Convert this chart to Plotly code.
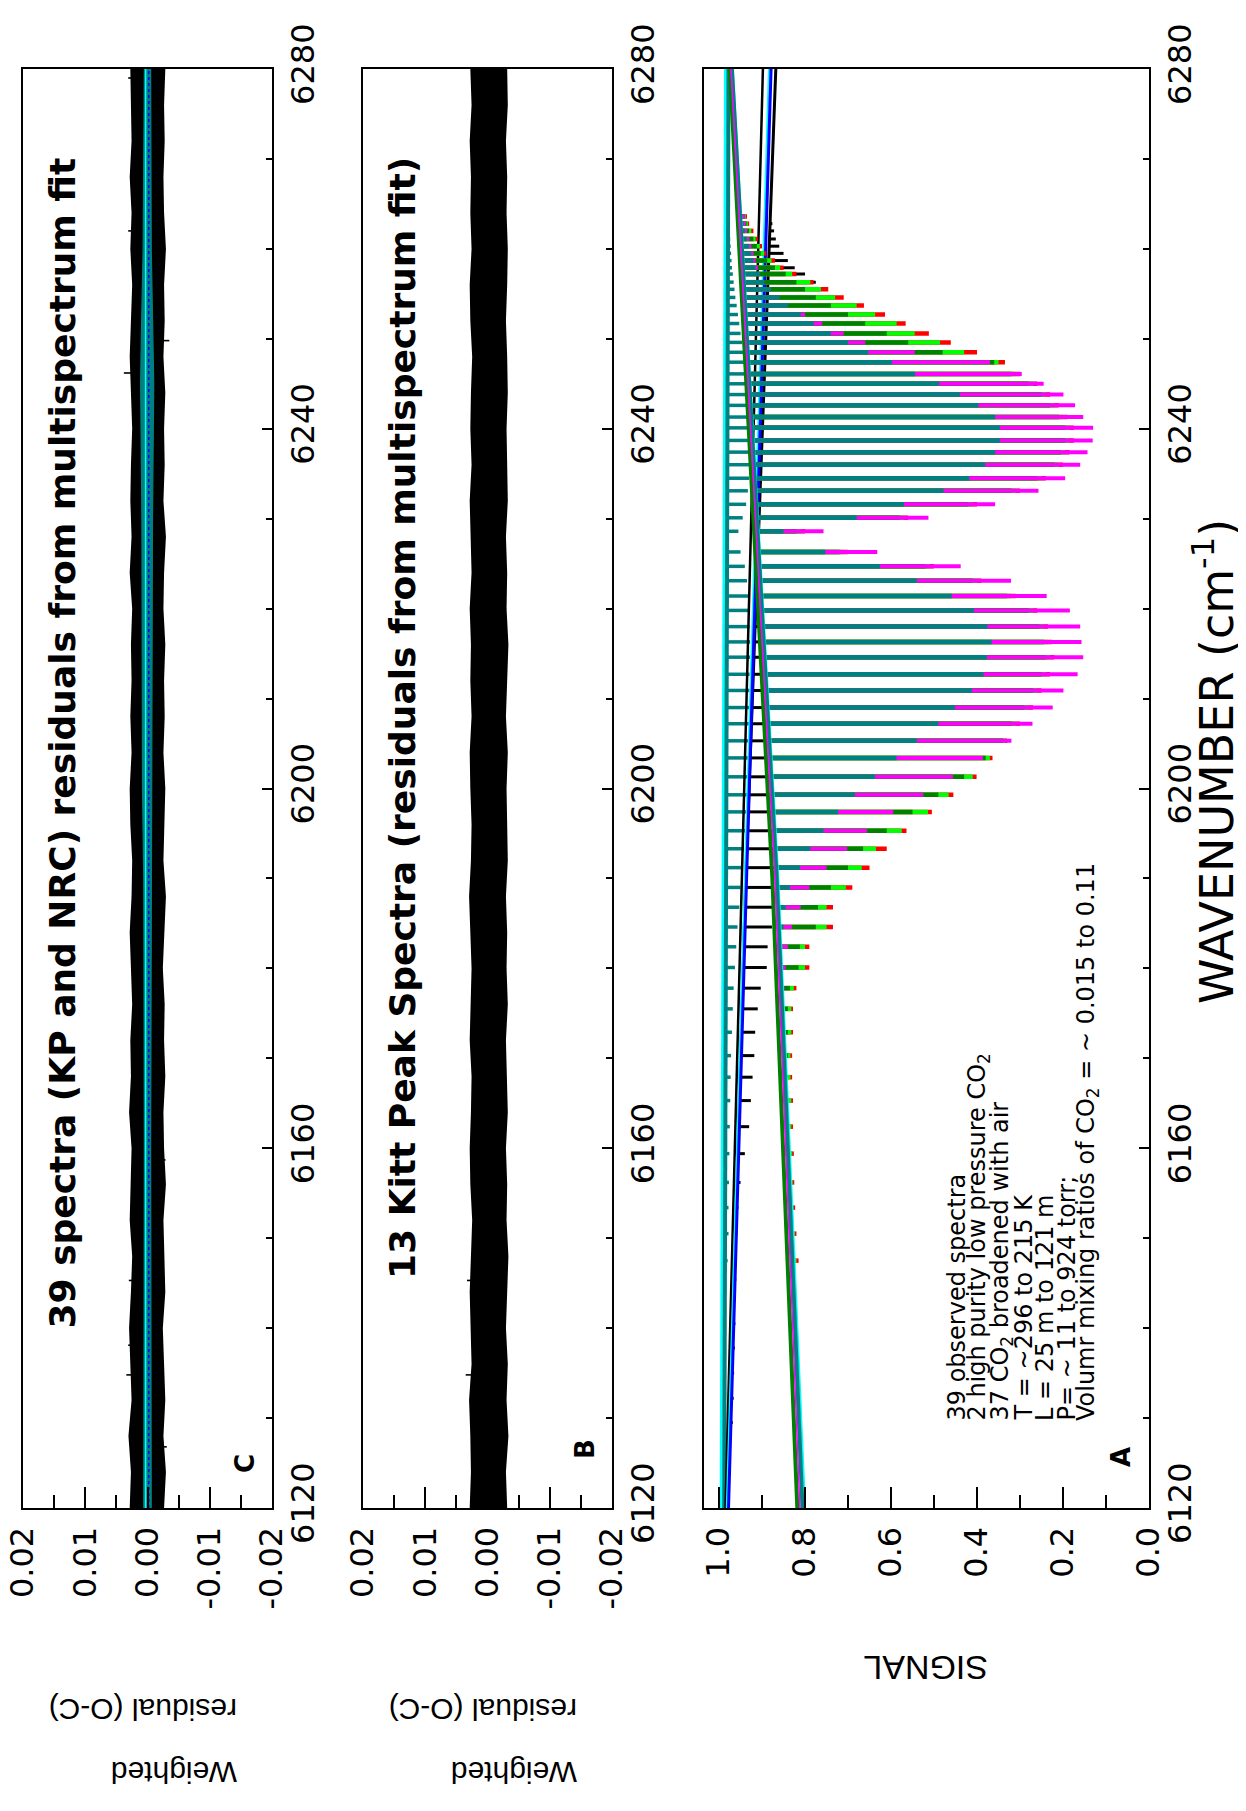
import numpy as np
import plotly.graph_objects as go

W, H = 1246, 1811
OFF = 8  # the page body adds an 8 px margin; place everything relative to the window

# ---------------- data ----------------
WN_TICKS = [6120, 6160, 6200, 6240, 6280]
WN_MINOR = [6130, 6140, 6150, 6170, 6180, 6190, 6210, 6220, 6230, 6250, 6260, 6270]
RES_TICKS = [0.02, 0.01, 0.0, -0.01, -0.02]
RES_TICKTEXT = ["0.02", "0.01", "0.00", "-0.01", "-0.02"]
RES_MINOR = [0.015, 0.005, -0.005, -0.015]
SIG_TICKS = [1.0, 0.8, 0.6, 0.4, 0.2, 0.0]
SIG_TICKTEXT = ["1.0", "0.8", "0.6", "0.4", "0.2", "0.0"]
SIG_MINOR = [0.9, 0.7, 0.5, 0.3, 0.1]

# residual envelopes (panel C and B)
RES_WN = [6120, 6124, 6128, 6132, 6136, 6140, 6144, 6148, 6152, 6156, 6160, 6164, 6168, 6172,
          6176, 6180, 6184, 6188, 6192, 6196, 6200, 6204, 6208, 6212, 6216, 6220, 6224, 6228,
          6232, 6236, 6240, 6244, 6248, 6252, 6256, 6260, 6264, 6268, 6272, 6276, 6280]
C_HI = [0.0027, 0.0025, 0.0029, 0.0024, 0.0026, 0.0028, 0.0025, 0.0023, 0.0027, 0.0025, 0.0024,
        0.0028, 0.0025, 0.0026, 0.0023, 0.0025, 0.0027, 0.0024, 0.0023, 0.0026, 0.0027, 0.0024,
        0.0026, 0.0024, 0.0025, 0.0023, 0.0027, 0.0024, 0.0026, 0.0025, 0.0023, 0.0025, 0.0027,
        0.0025, 0.0023, 0.0026, 0.0024, 0.0027, 0.0024, 0.0025, 0.0026]
C_LO = [-0.0025, -0.0028, -0.0024, -0.0027, -0.0025, -0.0023, -0.0027, -0.0026, -0.0024, -0.0028,
        -0.0025, -0.0024, -0.0027, -0.0025, -0.0026, -0.0023, -0.0026, -0.0028, -0.0024, -0.0025,
        -0.0027, -0.0024, -0.0026, -0.0025, -0.0027, -0.0024, -0.0025, -0.0028, -0.0024, -0.0026,
        -0.0025, -0.0027, -0.0024, -0.0026, -0.0025, -0.0028, -0.0025, -0.0024, -0.0026, -0.0025,
        -0.0027]
B_HI = [0.0027, 0.0025, 0.0026, 0.0028, 0.0024, 0.0026, 0.0027, 0.0025, 0.0023, 0.0026, 0.0027,
        0.0025, 0.0024, 0.0027, 0.0026, 0.0024, 0.0026, 0.0028, 0.0025, 0.0024, 0.0026, 0.0027,
        0.0024, 0.0026, 0.0025, 0.0027, 0.0024, 0.0025, 0.0027, 0.0024, 0.0026, 0.0025, 0.0023,
        0.0026, 0.0027, 0.0024, 0.0026, 0.0025, 0.0027, 0.0024, 0.0026]
B_LO = [-0.0030, -0.0028, -0.0032, -0.0029, -0.0031, -0.0028, -0.0030, -0.0032, -0.0029, -0.0030,
        -0.0028, -0.0031, -0.0030, -0.0028, -0.0031, -0.0029, -0.0030, -0.0028, -0.0031, -0.0030,
        -0.0029, -0.0031, -0.0028, -0.0030, -0.0032, -0.0029, -0.0030, -0.0028, -0.0031, -0.0030,
        -0.0029, -0.0031, -0.0030, -0.0028, -0.0030, -0.0031, -0.0029, -0.0030, -0.0028, -0.0031,
        -0.0030]
C_SPIKE_WN = [6126.8, 6134.8, 6138.1, 6145.3, 6158.7, 6246.2, 6249.8, 6262.0, 6279.0]
C_SPIKE_VAL = [-0.0031, 0.0034, 0.0031, 0.0030, -0.0029, 0.0038, -0.0035, 0.0031, 0.0031]
B_SPIKE_WN = [6134.8, 6145.3]
B_SPIKE_VAL = [0.0035, 0.0033]
CORE_WN = [6120, 6160, 6190, 6200, 6230, 6245, 6250, 6260, 6280]
CORE_HI = [0.0006, 0.0005, 0.0006, 0.0008, 0.0009, 0.0011, 0.0010, 0.0007, 0.0005]
CORE_LO = [-0.0006, -0.0005, -0.0006, -0.0007, -0.0008, -0.0010, -0.0009, -0.0006, -0.0005]

# Panel A: line centres (P and R branch) and tip signals of each spectrum
LINE_WN_P = [6147.5, 6150.5, 6153.4, 6156.2, 6159.4, 6162.4, 6165.3, 6167.9, 6170.3, 6172.9,
             6175.5, 6177.8, 6180.1, 6182.4, 6184.6, 6186.8, 6189.0, 6191.2, 6193.3, 6195.3,
             6197.4, 6199.3, 6201.3, 6203.4, 6205.3, 6207.2, 6209.0, 6210.9, 6212.7, 6214.6,
             6216.3, 6218.0, 6219.8, 6221.4, 6223.1, 6224.7, 6226.3]
LINE_WN_R = [6228.6, 6230.1, 6231.6, 6233.1, 6234.5, 6236.0, 6237.4, 6238.7, 6240.1, 6241.3,
             6242.6, 6243.8, 6245.0, 6246.1, 6247.4, 6248.5, 6249.6, 6250.6, 6251.7, 6252.7,
             6253.7, 6254.6, 6255.5, 6256.3, 6257.2, 6257.9, 6258.7, 6259.5, 6260.3, 6261.1,
             6262.0, 6262.8, 6263.6]

MAGENTA_P = [0.833, 0.835, 0.838, 0.840, 0.843, 0.845, 0.846, 0.848, 0.848, 0.850, 0.850, 0.848,
             0.845, 0.840, 0.830, 0.810, 0.790, 0.750, 0.702, 0.656, 0.595, 0.525, 0.456, 0.386,
             0.320, 0.271, 0.224, 0.199, 0.166, 0.153, 0.157, 0.160, 0.184, 0.238, 0.321, 0.438,
             0.632]
MAGENTA_R = [0.757, 0.513, 0.358, 0.257, 0.195, 0.160, 0.143, 0.131, 0.130, 0.153, 0.172, 0.199,
             0.245, 0.296, 0.370, 0.545, 0.660, 0.710, 0.760, 0.800, 0.840, 0.860, 0.880, 0.895,
             0.905, 0.910, 0.915, 0.920, 0.925, 0.930, 0.935, 0.938, 0.940]
RED_P = [0.815, 0.820, 0.823, 0.825, 0.826, 0.828, 0.828, 0.830, 0.830, 0.828, 0.828, 0.820,
         0.790, 0.790, 0.735, 0.735, 0.690, 0.650, 0.610, 0.564, 0.505, 0.455, 0.401, 0.364,
         0.330, 0.300, 0.270, 0.250, 0.230, 0.220, 0.225, 0.235, 0.260, 0.310, 0.390, 0.500,
         0.700]
RED_R = [0.800, 0.560, 0.400, 0.300, 0.240, 0.200, 0.185, 0.175, 0.175, 0.190, 0.210, 0.230,
         0.260, 0.300, 0.335, 0.400, 0.461, 0.512, 0.566, 0.614, 0.663, 0.710, 0.746, 0.780,
         0.820, 0.850, 0.870, 0.890, 0.900, 0.910, 0.920, 0.930, 0.935]
GREEN_P = [0.820, 0.824, 0.827, 0.829, 0.830, 0.832, 0.832, 0.834, 0.834, 0.832, 0.832, 0.826,
           0.800, 0.800, 0.750, 0.750, 0.705, 0.668, 0.635, 0.575, 0.514, 0.466, 0.410, 0.370,
           0.335, 0.310, 0.280, 0.260, 0.240, 0.230, 0.235, 0.245, 0.270, 0.320, 0.400, 0.510,
           0.710]
GREEN_R = [0.810, 0.570, 0.410, 0.310, 0.250, 0.210, 0.195, 0.185, 0.185, 0.200, 0.220, 0.240,
           0.270, 0.310, 0.350, 0.430, 0.486, 0.545, 0.587, 0.637, 0.680, 0.730, 0.763, 0.788,
           0.830, 0.858, 0.878, 0.895, 0.905, 0.915, 0.925, 0.933, 0.938]
DKGREEN_P = [0.825, 0.828, 0.831, 0.833, 0.835, 0.837, 0.838, 0.840, 0.840, 0.840, 0.840, 0.835,
             0.815, 0.812, 0.775, 0.770, 0.740, 0.700, 0.665, 0.610, 0.550, 0.490, 0.430, 0.380,
             0.340, 0.320, 0.290, 0.270, 0.250, 0.240, 0.245, 0.255, 0.280, 0.330, 0.410, 0.520,
             0.720]
DKGREEN_R = [0.820, 0.580, 0.420, 0.320, 0.260, 0.220, 0.205, 0.195, 0.195, 0.210, 0.230, 0.250,
             0.280, 0.320, 0.360, 0.480, 0.560, 0.610, 0.660, 0.700, 0.740, 0.775, 0.800, 0.820,
             0.845, 0.870, 0.888, 0.903, 0.912, 0.920, 0.930, 0.936, 0.940]
TEAL_P = [0.826, 0.828, 0.831, 0.833, 0.836, 0.838, 0.841, 0.843, 0.845, 0.847, 0.849, 0.851,
          0.852, 0.853, 0.850, 0.845, 0.835, 0.812, 0.788, 0.757, 0.723, 0.684, 0.637, 0.587,
          0.540, 0.490, 0.451, 0.412, 0.385, 0.377, 0.366, 0.376, 0.407, 0.459, 0.540, 0.626,
          0.753]
TEAL_R = [0.850, 0.680, 0.570, 0.478, 0.418, 0.381, 0.358, 0.347, 0.347, 0.358, 0.397, 0.440,
          0.488, 0.544, 0.598, 0.653, 0.700, 0.740, 0.780, 0.810, 0.840, 0.860, 0.880, 0.895,
          0.905, 0.915, 0.920, 0.925, 0.930, 0.935, 0.940, 0.943, 0.946]
BLACK_P = [0.962, 0.958, 0.955, 0.950, 0.940, 0.930, 0.926, 0.922, 0.918, 0.916, 0.910, 0.903,
           0.889, 0.887, 0.877, 0.875, 0.872, 0.870, 0.868, 0.866, 0.864, 0.862, 0.860, 0.858,
           0.856, 0.854, 0.852, 0.850, 0.848, 0.846, 0.845, 0.844, 0.844, 0.845, 0.846, 0.850,
           0.858]
BLACK_R = [0.850, 0.845, 0.840, 0.835, 0.830, 0.826, 0.822, 0.820, 0.818, 0.816, 0.814, 0.812,
           0.808, 0.805, 0.800, 0.780, 0.760, 0.745, 0.735, 0.730, 0.735, 0.745, 0.760, 0.775,
           0.800, 0.824, 0.840, 0.850, 0.860, 0.868, 0.872, 0.876, 0.880]
BLACK_EXTRA_WN = [6129.5, 6132.2, 6135.0, 6137.8, 6140.5, 6143.2, 6145.4]
BLACK_EXTRA_TIP = [0.968, 0.966, 0.965, 0.963, 0.962, 0.961, 0.960]
NEAR1_P = [0.980, 0.978, 0.978, 0.977, 0.976, 0.975, 0.974, 0.973, 0.972, 0.970, 0.968, 0.966,
           0.963, 0.960, 0.957, 0.953, 0.950, 0.946, 0.942, 0.940, 0.937, 0.935, 0.934, 0.932,
           0.931, 0.930, 0.930, 0.929, 0.929, 0.928, 0.928, 0.929, 0.930, 0.932, 0.935, 0.940,
           0.950]
NEAR1_R = [0.955, 0.945, 0.937, 0.933, 0.930, 0.929, 0.928, 0.928, 0.928, 0.929, 0.930, 0.932,
           0.934, 0.937, 0.940, 0.943, 0.946, 0.950, 0.953, 0.956, 0.959, 0.962, 0.964, 0.966,
           0.968, 0.970, 0.971, 0.972, 0.973, 0.974, 0.975, 0.975, 0.976]

# continuum levels (signal) at 6120, 6190, 6280 cm-1
CONT_WN = [6120, 6190, 6280]
NEAR1_CYAN_CONT = [0.995, 0.990, 0.985]
NEAR1_TEAL_CONT = [0.988, 0.983, 0.978]
BLACK1_CONT = [0.985, 0.947, 0.898]
BLACK2_CONT = [0.980, 0.938, 0.868]
BLUE_CONT = [0.978, 0.936, 0.879]
CYAN2_CONT = [0.982, 0.940, 0.884]
DEEP_DKGREEN_CONT = [0.818, 0.876, 0.975]
DEEP_MAGENTA_CONT = [0.812, 0.870, 0.972]
DEEP_TEAL_CONT = [0.806, 0.866, 0.970]
DEEP_CYAN_CONT = [0.800, 0.862, 0.968]

INFO_LINES = ["39 observed spectra",
              "2 high purity low pressure CO<sub>2</sub>",
              "37 CO<sub>2</sub> broadened with air",
              "T = ~296 to 215 K",
              "L = 25 m to 121 m",
              "P= ~ 11 to 924 torr;",
              "Volumr mixing ratios of CO<sub>2</sub> = ~ 0.015 to 0.11"]

# ---------------- layout geometry (window pixels) ----------------
def px(x):
    return (x - OFF) / W


def py(y):
    return 1 - (y - OFF) / H


XD_C = [px(23), px(272)]
XD_B = [px(363), px(612)]
XD_A = [px(704), px(1149)]
YD = [py(1508), py(69)]

LINE_WN = LINE_WN_P + LINE_WN_R

fig = go.Figure()


def add_line(x, y, color, width, xa, ya, dash=None):
    fig.add_trace(go.Scatter(x=x, y=y, mode="lines",
                             line=dict(color=color, width=width, dash=dash),
                             xaxis=xa, yaxis=ya, hoverinfo="skip", showlegend=False))


def add_spikes(wn, cont, tips, color, width):
    base = np.interp(wn, CONT_WN, cont)
    xs, ys = [], []
    for w, b, t in zip(wn, base, tips):
        xs += [b, t, None]
        ys += [w, w, None]
    add_line(xs, ys, color, width, "x3", "y3")


def add_band(wn, hi, lo, color, xa, ya, lw=1.2):
    fig.add_trace(go.Scatter(x=list(hi) + list(lo)[::-1], y=list(wn) + list(wn)[::-1],
                             mode="lines", fill="toself", fillcolor=color,
                             line=dict(color=color, width=lw),
                             xaxis=xa, yaxis=ya, hoverinfo="skip", showlegend=False))


def add_res_spikes(wn, val, xa, ya):
    xs, ys = [], []
    for w, v in zip(wn, val):
        xs += [0, v, None]
        ys += [w, w, None]
    add_line(xs, ys, "black", 1.6, xa, ya)


# ---- Panel C (residuals, all spectra)
add_band(RES_WN, C_HI, C_LO, "black", "x", "y", lw=2)
add_res_spikes(C_SPIKE_WN, C_SPIKE_VAL, "x", "y")
add_band(CORE_WN, CORE_HI, CORE_LO, "#008080", "x", "y")
add_line([0.0003, 0.0003], [6120, 6280], "#00FFFF", 1.5, "x", "y")
add_line([-0.0002, -0.0002], [6120, 6280], "#0000FF", 1.5, "x", "y", dash="dot")

# ---- Panel B (residuals, Kitt Peak)
add_band(RES_WN, B_HI, B_LO, "black", "x2", "y2", lw=2)
add_res_spikes(B_SPIKE_WN, B_SPIKE_VAL, "x2", "y2")

# ---- Panel A (observed spectra)
add_line(NEAR1_CYAN_CONT, CONT_WN, "#00FFFF", 3, "x3", "y3")
add_spikes(LINE_WN, NEAR1_TEAL_CONT, NEAR1_P + NEAR1_R, "#008080", 3.5)
add_line(NEAR1_TEAL_CONT, CONT_WN, "#008080", 4, "x3", "y3")
add_line(BLACK1_CONT, CONT_WN, "black", 2.5, "x3", "y3")
add_spikes(LINE_WN, BLACK2_CONT, BLACK_P + BLACK_R, "black", 3)
add_spikes(BLACK_EXTRA_WN, BLACK2_CONT, BLACK_EXTRA_TIP, "black", 3)
add_line(BLACK2_CONT, CONT_WN, "black", 3, "x3", "y3")
add_line(CYAN2_CONT, CONT_WN, "#00FFFF", 2, "x3", "y3")
add_line(BLUE_CONT, CONT_WN, "#0000FF", 3, "x3", "y3")

add_spikes(LINE_WN, DEEP_MAGENTA_CONT, RED_P + RED_R, "#FF0000", 4.5)
add_spikes(LINE_WN, DEEP_MAGENTA_CONT, GREEN_P + GREEN_R, "#00FF00", 4.5)
add_spikes(LINE_WN, DEEP_MAGENTA_CONT, DKGREEN_P + DKGREEN_R, "#008000", 4.5)
add_spikes(LINE_WN, DEEP_MAGENTA_CONT, MAGENTA_P + MAGENTA_R, "#FF00FF", 4)
add_spikes(LINE_WN, DEEP_TEAL_CONT, TEAL_P + TEAL_R, "#008080", 4.5)
add_line(DEEP_DKGREEN_CONT, CONT_WN, "#008000", 4, "x3", "y3")
add_line(DEEP_CYAN_CONT, CONT_WN, "#00FFFF", 2, "x3", "y3")
add_line(DEEP_TEAL_CONT, CONT_WN, "#008080", 4, "x3", "y3")
add_line(DEEP_MAGENTA_CONT, CONT_WN, "#FF00FF", 1.5, "x3", "y3")

# ---------------- axes ----------------
TICK_FONT = dict(family="DejaVu Sans", size=32, color="black")


def xaxis(domain, anchor, rng, tv, tt, minor_tv):
    return dict(domain=domain, anchor=anchor, range=rng, showline=True, mirror=True,
                linecolor="black", linewidth=2, ticks="inside", ticklen=21, tickwidth=1.5,
                tickcolor="black", tickmode="array", tickvals=tv, ticktext=tt,
                tickangle=-90, tickfont=TICK_FONT, showgrid=False, zeroline=False,
                ticklabelstandoff=4, ticklabeloverflow="allow", automargin=False,
                minor=dict(tickmode="array", tickvals=minor_tv, ticks="inside", ticklen=13,
                           tickwidth=1.5, tickcolor="black", showgrid=False))


def yaxis(anchor):
    return dict(domain=YD, anchor=anchor, range=[6120, 6280], side="right", showline=True,
                mirror=True, linecolor="black", linewidth=2, ticks="inside", ticklen=10,
                tickwidth=1.5, tickcolor="black", tickmode="array", tickvals=WN_TICKS,
                ticktext=[str(v) for v in WN_TICKS], tickangle=-90, tickfont=TICK_FONT,
                showgrid=False, zeroline=False, ticklabelstandoff=2,
                ticklabeloverflow="allow", automargin=False,
                minor=dict(tickmode="array", tickvals=WN_MINOR, ticks="inside", ticklen=6,
                           tickwidth=1.5, tickcolor="black", showgrid=False))


# ---------------- annotations ----------------
ann = []


def note(x, y, text, size, family="DejaVu Sans", angle=-90, xanchor="center",
         yanchor="middle"):
    ann.append(dict(x=px(x), y=py(y), xref="paper", yref="paper", text=text,
                    showarrow=False, textangle=angle, xanchor=xanchor, yanchor=yanchor,
                    borderpad=0, font=dict(family=family, size=size, color="black")))


note(62, 1330, "<b>39 spectra (KP and NRC) residuals from multispectrum fit</b>", 36,
     yanchor="bottom")
note(402, 1280, "<b>13 Kitt Peak Spectra (residuals from multispectrum fit)</b>", 36,
     yanchor="bottom")
note(245, 1464, "<b>C</b>", 26)
note(585, 1449, "<b>B</b>", 26)
note(1121, 1457, "<b>A</b>", 26)

INFO_X = [956, 978, 1001, 1023, 1045, 1066, 1087]
for xx, line in zip(INFO_X, INFO_LINES):
    note(xx, 1422, line, 24, yanchor="bottom")

note(1214, 762, "WAVENUMBER (cm<sup>-1</sup>)", 46)
note(926, 1668, "SIGNAL", 34, family="Liberation Sans", angle=180)
for right in (237, 577):
    note(right - 63, 1773, "Weighted", 30, family="Liberation Sans", angle=180)
    note(right - 94, 1710, "residual (O-C)", 30, family="Liberation Sans", angle=180)

fig.update_layout(
    width=W, height=H, autosize=False,
    margin=dict(l=0, r=0, t=0, b=0, pad=0, autoexpand=False),
    paper_bgcolor="white", plot_bgcolor="white",
    showlegend=False,
    xaxis=xaxis(XD_C, "y", [0.02, -0.02], RES_TICKS, RES_TICKTEXT, RES_MINOR),
    yaxis=yaxis("x"),
    xaxis2=xaxis(XD_B, "y2", [0.02, -0.02], RES_TICKS, RES_TICKTEXT, RES_MINOR),
    yaxis2=yaxis("x2"),
    xaxis3=xaxis(XD_A, "y3", [1.035, 0.0], SIG_TICKS, SIG_TICKTEXT, SIG_MINOR),
    yaxis3=yaxis("x3"),
    annotations=ann,
)

fig.write_html("out.html")
